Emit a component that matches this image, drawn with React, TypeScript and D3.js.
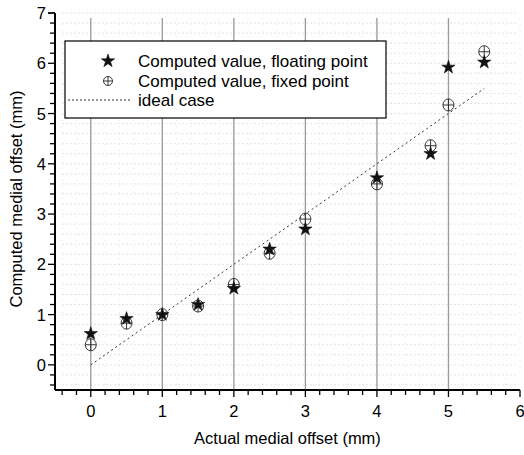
import React from 'react';
import * as d3 from 'd3';

// values
const actualOffsets = [0, 0.5, 1, 1.5, 2, 2.5, 3, 4, 4.75, 5, 5.5];
const floatingValues = [0.62, 0.92, 1.0, 1.2, 1.52, 2.3, 2.7, 3.72, 4.2, 5.92, 6.02];
const fixedValues = [0.4, 0.83, 1.0, 1.17, 1.6, 2.22, 2.9, 3.6, 4.36, 5.17, 6.23];
const idealCase = [0, 5.5];
const xTicks = [0, 1, 2, 3, 4, 5, 6];
const yTicks = [0, 1, 2, 3, 4, 5, 6, 7];
const legendLabels = ['Computed value, floating point', 'Computed value, fixed point', 'ideal case'];

const W = 524;
const H = 455;
const font = '"Liberation Sans", Arial, sans-serif';

const App: React.FC = () => {
  const x = d3.scaleLinear().domain([-0.5, 6]).range([55, 520]);
  const y = d3.scaleLinear().domain([-0.5, 7]).range([390, 13]);

  const xMinor = d3.range(-0.4, 6.001, 0.2).map(v => +v.toFixed(2));
  const yMinor = d3.range(-0.4, 7.001, 0.2).map(v => +v.toFixed(2));

  const star = d3.symbol().type(d3.symbolStar).size(55)();
  const line = d3.line<number>().x(d => x(d)).y(d => y(d));

  return (
    <svg width={W} height={H} style={{ position: 'absolute', left: 0, top: 0, background: '#fff' }}>
      {/* faint background grid */}
      <g stroke="#dcdcdc" strokeWidth={0.8} strokeDasharray="2,2">
        {yMinor.map(v => (
          <line key={'gy' + v} x1={x(-0.4)} x2={x(6) - 4} y1={y(v)} y2={y(v)} />
        ))}
        {xMinor.map(v => (
          <line key={'gx' + v} x1={x(v)} x2={x(v)} y1={y(6.9)} y2={y(-0.45)} strokeDasharray="1,5" />
        ))}
      </g>
      {/* vertical grid at majors */}
      <g stroke="#9a9a9a" strokeWidth={1.3}>
        {xTicks.filter(v => v < 6).map(v => (
          <line key={'vx' + v} x1={x(v)} x2={x(v)} y1={y(6.9)} y2={y(-0.5)} />
        ))}
      </g>

      {/* ideal case */}
      <path d={line(idealCase) || ''} fill="none" stroke="#333" strokeWidth={1} strokeDasharray="2,3" />

      {/* fixed point */}
      {actualOffsets.map((a, i) => {
        const cx = x(a);
        const cy = y(fixedValues[i]);
        return (
          <g key={'fx' + i} stroke="#222" strokeWidth={0.9} fill="none">
            <ellipse cx={cx} cy={cy} rx={5.5} ry={6} />
            <line x1={cx - 5.5} x2={cx + 5.5} y1={cy} y2={cy} />
            <line x1={cx} x2={cx} y1={cy - 6} y2={cy + 6} />
          </g>
        );
      })}
      {/* floating point */}
      {actualOffsets.map((a, i) => (
        <path
          key={'fl' + i}
          d={star || ''}
          transform={`translate(${x(a)},${y(floatingValues[i])})`}
          fill="#111"
          stroke="#111"
          strokeWidth={0.6}
        />
      ))}

      {/* axes */}
      <g stroke="#000" fill="none">
        <line x1={x(-0.5)} x2={x(-0.5)} y1={y(7)} y2={y(-0.5)} strokeWidth={2} />
        <line x1={x(-0.5)} x2={x(6)} y1={y(-0.5)} y2={y(-0.5)} strokeWidth={2} />
        {xMinor.map(v => (
          <line key={'xt' + v} x1={x(v)} x2={x(v)} y1={y(-0.5)} y2={y(-0.5) + (Number.isInteger(v) ? 7 : 5)} strokeWidth={1.3} />
        ))}
        {yMinor.map(v => (
          <line key={'yt' + v} x1={x(-0.5)} x2={x(-0.5) - (Number.isInteger(v) ? 7 : 5)} y1={y(v)} y2={y(v)} strokeWidth={1.3} />
        ))}
        <line x1={x(-0.5)} x2={x(-0.5) - 7} y1={y(7)} y2={y(7)} strokeWidth={1.3} />
      </g>
      <g fontFamily={font} fontSize={16.5} fill="#000">
        {xTicks.map(v => (
          <text key={'xl' + v} x={x(v)} y={y(-0.5) + 27} textAnchor="middle">{v}</text>
        ))}
        {yTicks.map(v => (
          <text key={'yl' + v} x={x(-0.5) - 9} y={y(v) + 6} textAnchor="end">{v}</text>
        ))}
        <text x={x(2.75)} y={444} textAnchor="middle">Actual medial offset (mm)</text>
        <text transform={`translate(22,${y(3.3)}) rotate(-90)`} textAnchor="middle">Computed medial offset (mm)</text>
      </g>

      {/* legend */}
      <g>
        <rect x={65} y={41} width={321} height={77} fill="#fff" stroke="#000" strokeWidth={1.2} />
        <path d={star || ''} transform="translate(108,61)" fill="#111" stroke="#111" strokeWidth={0.6} />
        <g stroke="#222" strokeWidth={0.9} fill="none">
          <circle cx={108} cy={81} r={4.5} />
          <line x1={103.5} x2={112.5} y1={81} y2={81} />
          <line x1={108} x2={108} y1={76.5} y2={85.5} />
        </g>
        <line x1={68} x2={130} y1={100} y2={100} stroke="#333" strokeWidth={1} strokeDasharray="2,2" />
        <g fontFamily={font} fontSize={17} fill="#000">
          {legendLabels.map((t, i) => (
            <text key={t} x={138} y={67 + i * 19.5}>{t}</text>
          ))}
        </g>
      </g>
    </svg>
  );
};

export default App;
